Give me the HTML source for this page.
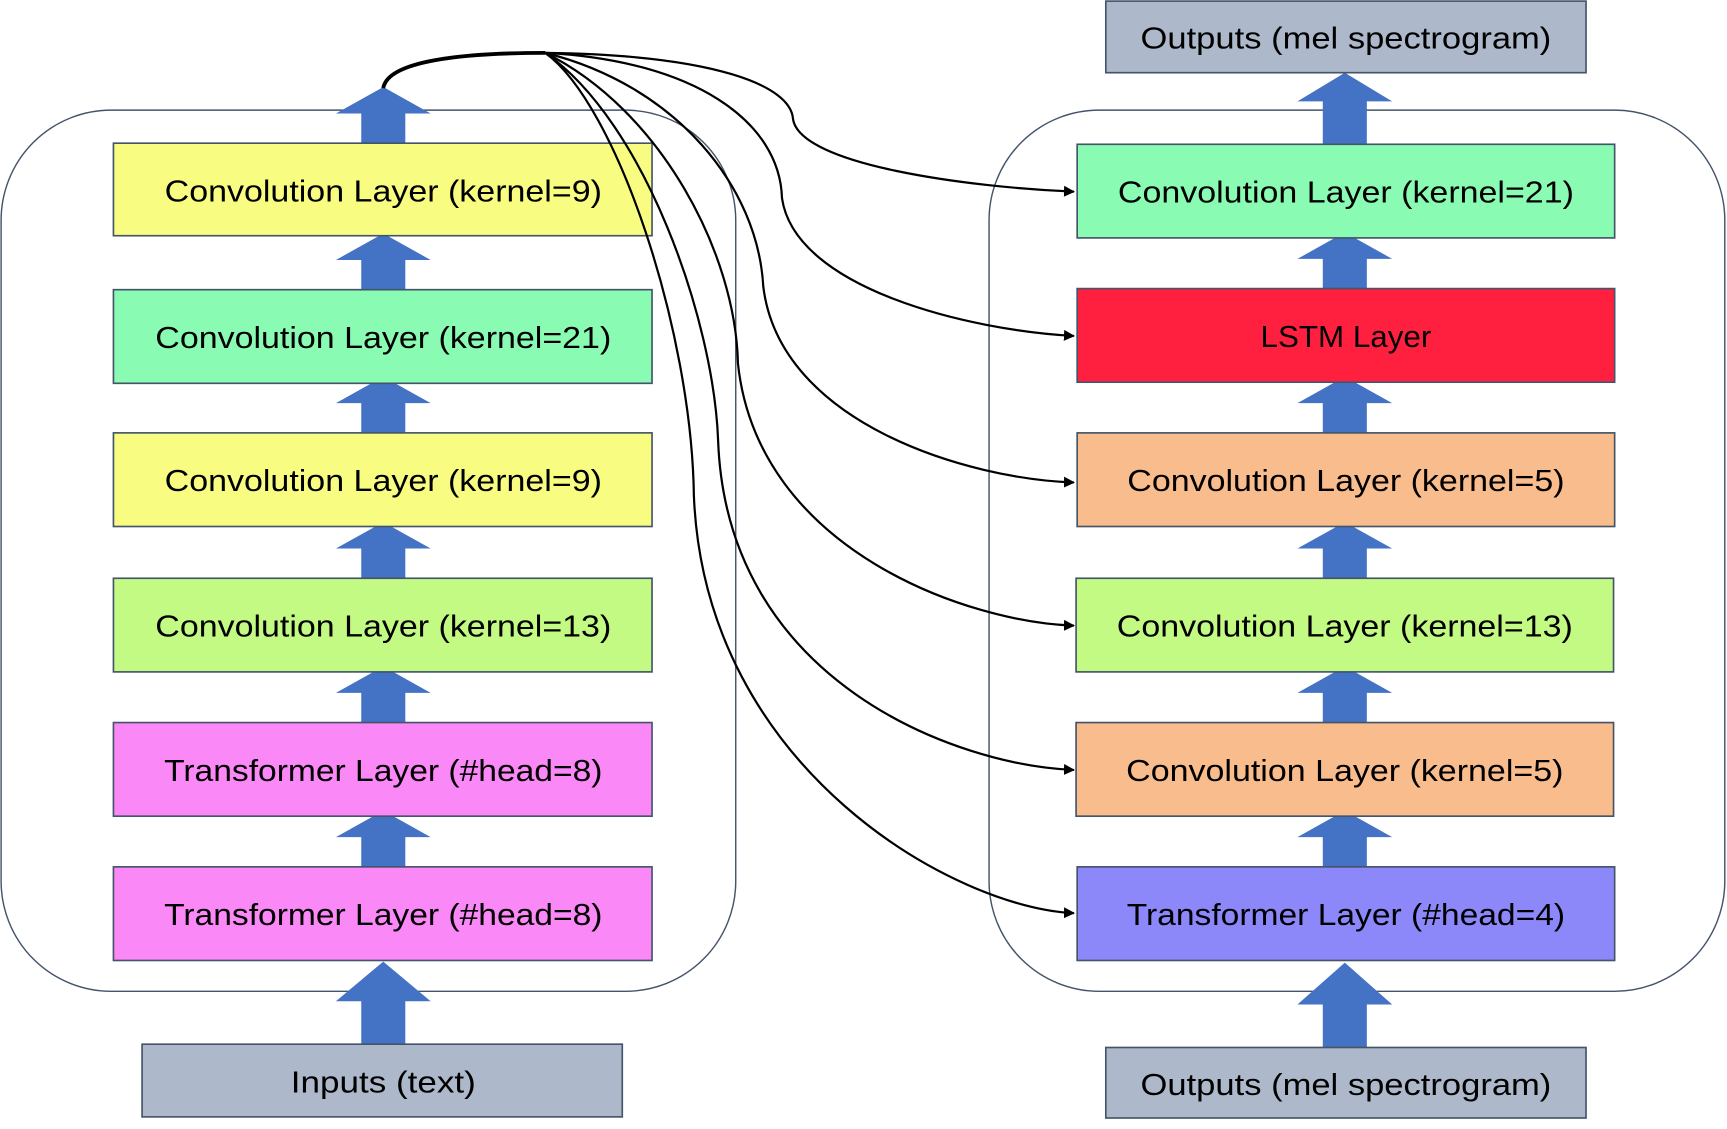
<!DOCTYPE html>
<html><head><meta charset="utf-8"><style>
html,body{margin:0;padding:0;background:#fff;}
svg{display:block;}
text{font-family:"Liberation Sans",sans-serif;font-size:28px;fill:#000;}
</style></head><body>
<svg width="1727" height="1129" viewBox="0 0 1568 1025" preserveAspectRatio="none" xmlns="http://www.w3.org/2000/svg">
<defs>
<marker id="ah" markerWidth="10" markerHeight="10" refX="9" refY="5" orient="auto" markerUnits="userSpaceOnUse">
<path d="M0,0 L10,5 L0,10 z" fill="#000"/></marker>
<g id="arr"><path d="M-20,0 V-28 H-43 L0,-52 L43,-28 H20 V0 z" fill="#4472c4"/></g>
</defs>
<!-- containers -->
<rect x="1" y="100" width="667" height="800" rx="100" fill="none" stroke="#44546a" stroke-width="1.3"/>
<rect x="898" y="100" width="668" height="800" rx="100" fill="none" stroke="#44546a" stroke-width="1.3"/>
<!-- left arrows -->
<use href="#arr" x="348" y="131"/>
<use href="#arr" x="348" y="264"/>
<use href="#arr" x="348" y="394"/>
<use href="#arr" x="348" y="526"/>
<use href="#arr" x="348" y="657"/>
<use href="#arr" x="348" y="788"/>
<g transform="translate(348,949)"><path d="M-20,0 V-40 H-43 L0,-76 L43,-40 H20 V0 z" fill="#4472c4"/></g>
<!-- right arrows -->
<g transform="translate(1221,132)"><path d="M-20,0 V-40 H-43 L0,-66 L43,-40 H20 V0 z" fill="#4472c4"/></g>
<use href="#arr" x="1221" y="263"/>
<use href="#arr" x="1221" y="394"/>
<use href="#arr" x="1221" y="526"/>
<use href="#arr" x="1221" y="657"/>
<use href="#arr" x="1221" y="788"/>
<g transform="translate(1221,952)"><path d="M-20,0 V-40 H-43 L0,-78 L43,-40 H20 V0 z" fill="#4472c4"/></g>
<!-- left boxes -->
<g stroke="#44546a" stroke-width="1.5">
<rect x="103" y="130" width="489" height="84" fill="#f8fd82"/>
<rect x="103" y="263" width="489" height="85" fill="#8afbb2"/>
<rect x="103" y="393" width="489" height="85" fill="#f8fd82"/>
<rect x="103" y="525" width="489" height="85" fill="#c2fa84"/>
<rect x="103" y="656" width="489" height="85" fill="#fa88f6"/>
<rect x="103" y="787" width="489" height="85" fill="#fa88f6"/>
<rect x="129" y="948" width="436" height="66" fill="#adb9ca"/>
<rect x="978" y="131" width="488" height="85" fill="#8afbb2"/>
<rect x="978" y="262" width="488" height="85" fill="#ff1f3f"/>
<rect x="978" y="393" width="488" height="85" fill="#f9bc8c"/>
<rect x="977" y="525" width="488" height="85" fill="#c2fa84"/>
<rect x="977" y="656" width="488" height="85" fill="#f9bc8c"/>
<rect x="978" y="787" width="488" height="85" fill="#8c88fa"/>
<rect x="1004" y="1" width="436" height="65" fill="#adb9ca"/>
<rect x="1004" y="951" width="436" height="64" fill="#adb9ca"/>
</g>
<g text-anchor="middle">
<text x="348" y="183" textLength="397" lengthAdjust="spacingAndGlyphs">Convolution Layer (kernel=9)</text>
<text x="348" y="316" textLength="414" lengthAdjust="spacingAndGlyphs">Convolution Layer (kernel=21)</text>
<text x="348" y="446" textLength="397" lengthAdjust="spacingAndGlyphs">Convolution Layer (kernel=9)</text>
<text x="348" y="578" textLength="414" lengthAdjust="spacingAndGlyphs">Convolution Layer (kernel=13)</text>
<text x="348" y="709" textLength="398" lengthAdjust="spacingAndGlyphs">Transformer Layer (#head=8)</text>
<text x="348" y="840" textLength="398" lengthAdjust="spacingAndGlyphs">Transformer Layer (#head=8)</text>
<text x="348" y="992" textLength="168" lengthAdjust="spacingAndGlyphs">Inputs (text)</text>
<text x="1222" y="184" textLength="414" lengthAdjust="spacingAndGlyphs">Convolution Layer (kernel=21)</text>
<text x="1222" y="315" textLength="155" lengthAdjust="spacingAndGlyphs">LSTM Layer</text>
<text x="1222" y="446" textLength="397" lengthAdjust="spacingAndGlyphs">Convolution Layer (kernel=5)</text>
<text x="1221" y="578" textLength="414" lengthAdjust="spacingAndGlyphs">Convolution Layer (kernel=13)</text>
<text x="1221" y="709" textLength="397" lengthAdjust="spacingAndGlyphs">Convolution Layer (kernel=5)</text>
<text x="1222" y="840" textLength="398" lengthAdjust="spacingAndGlyphs">Transformer Layer (#head=4)</text>
<text x="1222" y="44" textLength="373" lengthAdjust="spacingAndGlyphs">Outputs (mel spectrogram)</text>
<text x="1222" y="994" textLength="373" lengthAdjust="spacingAndGlyphs">Outputs (mel spectrogram)</text>
</g>
<!-- connectors -->
<g fill="none" stroke="#000" stroke-width="2">
<path d="M348,80 C352,55 420,48 495,48" stroke-width="3.5"/>
<path d="M495,48 C650,50 718,78 720,108 C726,150 880,170 975,174" marker-end="url(#ah)"/>
<path d="M495,48 C630,55 708,110 710,180 C722,262 880,300 975,305" marker-end="url(#ah)"/>
<path d="M495,48 C615,78 688,170 693,260 C708,385 880,435 975,438" marker-end="url(#ah)"/>
<path d="M495,48 C600,100 668,230 670,330 C688,500 880,565 975,568" marker-end="url(#ah)"/>
<path d="M495,48 C585,110 648,290 652,400 C660,620 870,695 975,699" marker-end="url(#ah)"/>
<path d="M495,48 C560,95 628,300 630,450 C640,700 870,825 975,829" marker-end="url(#ah)"/>
</g>
</svg>
</body></html>
